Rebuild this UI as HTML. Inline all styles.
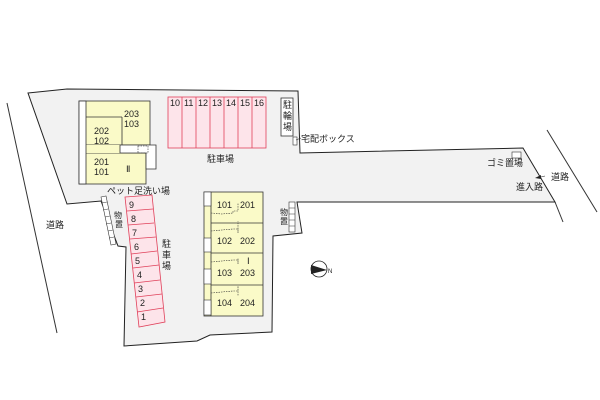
<!DOCTYPE html>
<html><head><meta charset="utf-8"><style>
body{margin:0;background:#fff}
svg{display:block}
text{font-family:"Liberation Sans","Noto Sans CJK JP",sans-serif;font-size:9px;fill:#222}
</style></head><body>
<svg width="600" height="400" viewBox="0 0 600 400">
<!-- roads -->
<line x1="7" y1="103" x2="57" y2="333" stroke="#333" stroke-width="1"/>
<line x1="547" y1="130" x2="597" y2="212" stroke="#333" stroke-width="1"/>
<line x1="555" y1="202" x2="563" y2="222" stroke="#333" stroke-width="1"/>
<!-- lot -->
<polygon points="28,93 67,89 298,91 300,153 523,148 555,202 297,202 302,233 273,236 272,332 210,335 197,341 138,345 124,346 126,247 118,246 101,201 67,204" fill="#f2f2f2" stroke="#222" stroke-width="1"/>
<!-- Building II -->
<rect x="79" y="101" width="71" height="44" fill="#fafac8" stroke="#333" stroke-width="0.8"/>
<rect x="79" y="153" width="67" height="31" fill="#fafac8" stroke="#333" stroke-width="0.8"/>
<rect x="79" y="145" width="41" height="8" fill="#fafac8"/>
<line x1="79" y1="145" x2="79" y2="153" stroke="#333" stroke-width="0.8"/>
<polygon points="120,145 156,145 156,169 146,169 146,153 120,153" fill="#fff" stroke="#333" stroke-width="0.8"/>
<line x1="79" y1="117" x2="122" y2="117" stroke="#333" stroke-width="0.8"/>
<line x1="122" y1="117" x2="122" y2="145" stroke="#333" stroke-width="0.8"/>
<rect x="79" y="101" width="7" height="83" fill="#fff" stroke="#333" stroke-width="0.8"/>
<rect x="138" y="146" width="10" height="7" fill="none" stroke="#333" stroke-width="0.6" stroke-dasharray="1.5,1"/>
<text x="124" y="117">203</text><text x="124" y="127">103</text>
<text x="94" y="134">202</text><text x="94" y="144">102</text>
<text x="94" y="165">201</text><text x="94" y="175">101</text>
<text x="126" y="172" style="font-family:'Liberation Serif',serif">Ⅱ</text>
<!-- Parking 10-16 -->
<rect x="168" y="97" width="98" height="51" fill="#fde4ea" stroke="#e0405a" stroke-width="0.8"/>
<g stroke="#e0405a" stroke-width="0.8">
<line x1="182" y1="97" x2="182" y2="148"/><line x1="196" y1="97" x2="196" y2="148"/><line x1="210" y1="97" x2="210" y2="148"/><line x1="224" y1="97" x2="224" y2="148"/><line x1="238" y1="97" x2="238" y2="148"/><line x1="252" y1="97" x2="252" y2="148"/>
</g>
<text x="170" y="106">10</text><text x="184" y="106">11</text><text x="198" y="106">12</text><text x="212" y="106">13</text><text x="226" y="106">14</text><text x="240" y="106">15</text><text x="254" y="106">16</text>
<text x="207" y="162">駐車場</text>
<!-- bike -->
<rect x="281" y="98" width="12" height="38" fill="#fff" stroke="#333" stroke-width="0.8"/>
<text x="283" y="108">駐</text><text x="283" y="119">輪</text><text x="283" y="130">場</text>
<rect x="293" y="137" width="4" height="8" fill="#fff" stroke="#333" stroke-width="0.6"/>
<text x="301" y="142">宅配ボックス</text>
<line x1="296" y1="140" x2="301" y2="138" stroke="#333" stroke-width="0.6"/>
<!-- gomi -->
<rect x="512" y="152" width="9" height="6" fill="#fff" stroke="#333" stroke-width="0.6"/>
<text x="487" y="166">ゴミ置場</text>
<text x="551" y="180">道路</text>
<polygon points="535,178 541,175 541,179" fill="#222"/>
<line x1="541" y1="177" x2="545" y2="176" stroke="#222" stroke-width="0.6"/>
<text x="516" y="190">進入路</text>
<!-- storage right -->
<rect x="289" y="202" width="6" height="30" fill="#fff" stroke="#333" stroke-width="0.6"/>
<g stroke="#333" stroke-width="0.5"><line x1="289" y1="208" x2="295" y2="208"/><line x1="289" y1="214" x2="295" y2="214"/><line x1="289" y1="220" x2="295" y2="220"/><line x1="289" y1="226" x2="295" y2="226"/></g>
<text x="280" y="215" style="font-size:8px">物</text><text x="280" y="224" style="font-size:8px">置</text>
<!-- Building I -->
<rect x="204" y="192" width="59" height="124" fill="#fafac8" stroke="#333" stroke-width="0.8"/>
<g stroke="#333" stroke-width="0.8"><line x1="211" y1="223" x2="263" y2="223"/><line x1="211" y1="253" x2="263" y2="253"/><line x1="211" y1="285" x2="263" y2="285"/><line x1="211" y1="192" x2="211" y2="316"/></g>
<g fill="#fff" stroke="#333" stroke-width="0.6"><rect x="204" y="192" width="7" height="14"/><rect x="204" y="238" width="7" height="14"/><rect x="204" y="269" width="7" height="15"/><rect x="204" y="300" width="7" height="15"/></g>
<g fill="none" stroke="#333" stroke-width="0.6" stroke-dasharray="1.5,1">
<polyline points="211,213 222,214 233,213 233,211 238,211 238,203"/>
<polyline points="211,231 222,230 233,229 238,229 238,233 238,221"/>
<polyline points="211,262 222,261 233,260 238,260 238,264 238,258"/>
<polyline points="211,293 222,292 233,291 238,291 238,286 238,296"/>
</g>
<text x="217" y="208">101</text><text x="240" y="208">201</text>
<text x="217" y="244">102</text><text x="240" y="244">202</text>
<text x="247" y="264" style="font-family:'Liberation Serif',serif">Ⅰ</text>
<text x="217" y="276">103</text><text x="240" y="276">203</text>
<text x="217" y="306">104</text><text x="240" y="306">204</text>
<!-- Parking 1-9 -->
<polygon points="125,197 152,195 165,322 139,327" fill="#fde4ea" stroke="#e0405a" stroke-width="0.8"/>
<g stroke="#e0405a" stroke-width="0.8">
<line x1="127" y1="211" x2="153" y2="209"/><line x1="128" y1="225" x2="154" y2="223"/><line x1="130" y1="239" x2="156" y2="237"/><line x1="131" y1="254" x2="157" y2="251"/><line x1="133" y1="268" x2="159" y2="265"/><line x1="134" y1="283" x2="160" y2="280"/><line x1="136" y1="297" x2="162" y2="294"/><line x1="137" y1="312" x2="163" y2="308"/>
</g>
<text x="129" y="208">9</text><text x="131" y="222">8</text><text x="132" y="236">7</text><text x="134" y="250">6</text><text x="135" y="264">5</text><text x="137" y="278">4</text><text x="138" y="292">3</text><text x="140" y="306">2</text><text x="141" y="320">1</text>
<text x="162" y="247">駐</text><text x="162" y="258">車</text><text x="162" y="269">場</text>
<text x="107" y="194">ペット足洗い場</text>
<!-- storage left -->
<polygon points="101,197 106,196 116,244 111,245" fill="#fff" stroke="#333" stroke-width="0.6"/>
<g stroke="#333" stroke-width="0.5"><line x1="102" y1="203" x2="107" y2="202"/><line x1="103" y1="210" x2="108" y2="209"/><line x1="105" y1="217" x2="110" y2="216"/><line x1="106" y1="224" x2="111" y2="223"/><line x1="108" y1="231" x2="113" y2="230"/><line x1="109" y1="238" x2="114" y2="237"/></g>
<text x="114" y="218" style="font-size:8px">物</text><text x="115" y="227" style="font-size:8px">置</text>
<text x="46" y="228">道路</text>
<!-- compass -->
<circle cx="319" cy="269" r="8" fill="#fff" stroke="#222" stroke-width="0.8"/>
<polygon points="311,265 327,270 311,274" fill="#222"/>
<text x="328" y="273" style="font-size:6px">N</text>
</svg>
</body></html>
